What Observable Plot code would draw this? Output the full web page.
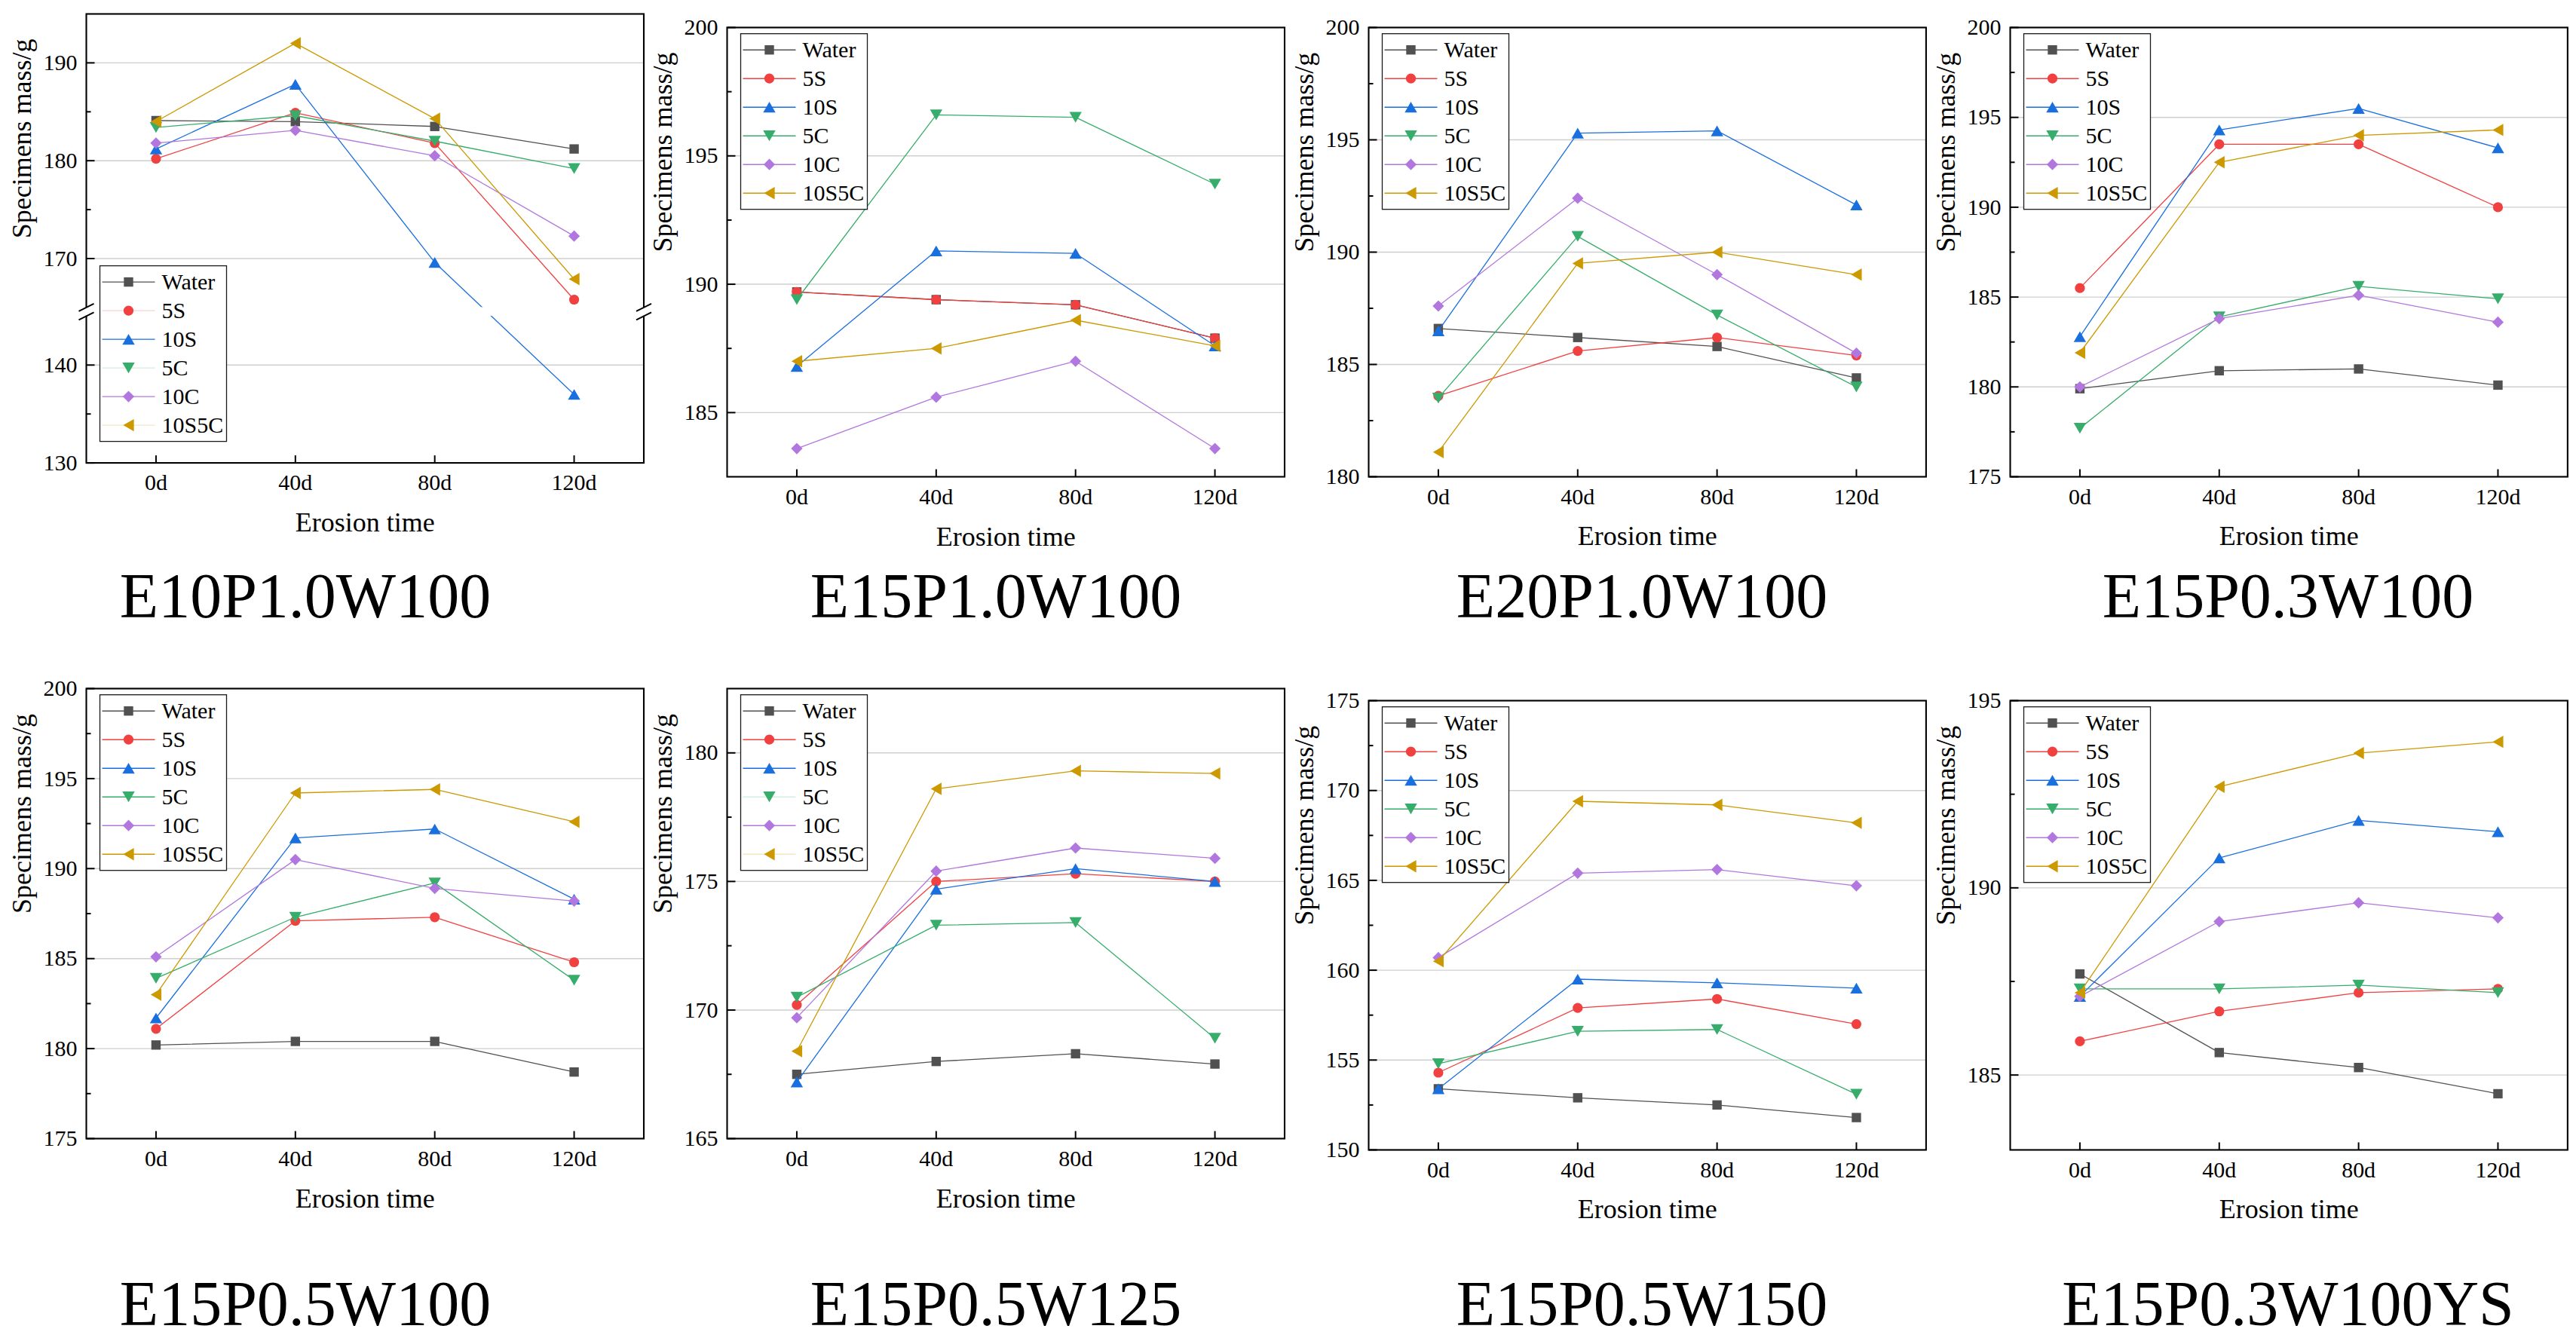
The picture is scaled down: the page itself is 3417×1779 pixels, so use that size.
<!DOCTYPE html>
<html><head><meta charset="utf-8">
<script src="https://cdn.jsdelivr.net/npm/d3@7"></script>
<script src="https://cdn.jsdelivr.net/npm/@observablehq/plot@0.6"></script>
<style>
html,body{margin:0;padding:0;background:#fff;}
#root{position:relative;width:3417px;height:1779px;overflow:hidden;background:#fff;font-family:'Liberation Serif','Times New Roman',serif;}
.panel{position:absolute;}
.title{position:absolute;width:660px;text-align:center;font-size:84px;line-height:80px;color:#000;white-space:nowrap;overflow:visible;font-family:'Liberation Serif','Times New Roman',serif;}
</style></head><body><div id="root"></div>
<script>
// ---------- data ----------
const days = [0, 40, 80, 120];
const dayLabels = ["0d", "40d", "80d", "120d"];
const seriesNames = ["Water", "5S", "10S", "5C", "10C", "10S5C"];
const panelTitles = ["E10P1.0W100", "E15P1.0W100", "E20P1.0W100", "E15P0.3W100",
                     "E15P0.5W100", "E15P0.5W125", "E15P0.5W150", "E15P0.3W100YS"];
const xLabel = "Erosion time";
const yLabel = "Specimens mass/g";

// rows: Water, 5S, 10S, 5C, 10C, 10S5C ; columns: 0d, 40d, 80d, 120d
const massE10P10W100 = [
  [184.1, 184.0, 183.5, 181.2],
  [180.2, 184.9, 181.8, 165.8],
  [181.2, 187.8, 169.6, 137.0],
  [183.4, 184.6, 182.0, 179.2],
  [181.8, 183.1, 180.5, 172.3],
  [184.0, 192.0, 184.3, 167.9]];
const massE15P10W100 = [
  [189.7, 189.4, 189.2, 187.9],
  [189.7, 189.4, 189.2, 187.9],
  [186.8, 191.3, 191.2, 187.6],
  [189.4, 196.6, 196.5, 193.9],
  [183.6, 185.6, 187.0, 183.6],
  [187.0, 187.5, 188.6, 187.6]];
const massE20P10W100 = [
  [186.6, 186.2, 185.8, 184.4],
  [183.6, 185.6, 186.2, 185.4],
  [186.5, 195.3, 195.4, 192.1],
  [183.5, 190.7, 187.2, 184.0],
  [187.6, 192.4, 189.0, 185.5],
  [181.1, 189.5, 190.0, 189.0]];
const massE15P03W100 = [
  [179.9, 180.9, 181.0, 180.1],
  [185.5, 193.5, 193.5, 190.0],
  [182.8, 194.3, 195.5, 193.3],
  [177.7, 183.9, 185.6, 184.9],
  [180.0, 183.8, 185.1, 183.6],
  [181.9, 192.5, 194.0, 194.3]];
const massE15P05W100 = [
  [180.2, 180.4, 180.4, 178.7],
  [181.1, 187.1, 187.3, 184.8],
  [181.7, 191.7, 192.2, 188.3],
  [183.9, 187.3, 189.2, 183.8],
  [185.1, 190.5, 188.9, 188.2],
  [183.0, 194.2, 194.4, 192.6]];
const massE15P05W125 = [
  [167.5, 168.0, 168.3, 167.9],
  [170.2, 175.0, 175.3, 175.0],
  [167.2, 174.7, 175.5, 175.0],
  [170.5, 173.3, 173.4, 168.9],
  [169.7, 175.4, 176.3, 175.9],
  [168.4, 178.6, 179.3, 179.2]];
const massE15P05W150 = [
  [153.4, 152.9, 152.5, 151.8],
  [154.3, 157.9, 158.4, 157.0],
  [153.4, 159.5, 159.3, 159.0],
  [154.8, 156.6, 156.7, 153.1],
  [160.7, 165.4, 165.6, 164.7],
  [160.5, 169.4, 169.2, 168.2]];
const massE15P03W100YS = [
  [187.7, 185.6, 185.2, 184.5],
  [185.9, 186.7, 187.2, 187.3],
  [187.1, 190.8, 191.8, 191.5],
  [187.3, 187.3, 187.4, 187.2],
  [187.1, 189.1, 189.6, 189.2],
  [187.2, 192.7, 193.6, 193.9]];

// y-axis domains and tick values
const yDomains = [[130, 145, 165, 195], [182.5, 200], [180, 200], [175, 200],
                  [175, 200], [165, 182.5], [150, 175], [183, 195]];
const yMajorTicks = [[130, 140, 170, 180, 190], [185, 190, 195, 200], [180, 185, 190, 195, 200],
                     [175, 180, 185, 190, 195, 200], [175, 180, 185, 190, 195, 200],
                     [165, 170, 175, 180], [150, 155, 160, 165, 170, 175], [185, 190, 195]];
const yMinorTicks = [[135, 175, 185], [187.5, 192.5, 197.5], [182.5, 187.5, 192.5, 197.5],
                     [177.5, 182.5, 187.5, 192.5, 197.5], [177.5, 182.5, 187.5, 192.5, 197.5],
                     [167.5, 172.5, 177.5], [152.5, 157.5, 162.5, 167.5, 172.5], [187.5, 192.5]];
const xDomain = [-20, 140];

// ---------- styles ----------
const seriesColors = ["#515151", "#F14040", "#1A6FDF", "#37AD6B", "#B177DE", "#CC9900"];
const fadedColors  = ["#515151", "#F9D2D2", "#1A6FDF", "#D4EEDF", "#B177DE", "#F4E6C2"];

function half(s) { return Math.sqrt(s / Math.PI); }
const symSquare  = {draw(c, s) { const h = half(s); c.moveTo(-h, -h); c.lineTo(h, -h); c.lineTo(h, h); c.lineTo(-h, h); c.closePath(); }};
const symCircle  = {draw(c, s) { const h = half(s); c.moveTo(h, 0); c.arc(0, 0, h, 0, 2 * Math.PI); c.closePath(); }};
const symUp      = {draw(c, s) { const h = half(s), k = 0.866 * h; c.moveTo(0, -k); c.lineTo(h, k); c.lineTo(-h, k); c.closePath(); }};
const symDown    = {draw(c, s) { const h = half(s), k = 0.866 * h; c.moveTo(0, k); c.lineTo(h, -k); c.lineTo(-h, -k); c.closePath(); }};
const symDiamond = {draw(c, s) { const h = half(s); c.moveTo(0, -h); c.lineTo(h, 0); c.lineTo(0, h); c.lineTo(-h, 0); c.closePath(); }};
const symLeft    = {draw(c, s) { const h = half(s), k = 0.866 * h; c.moveTo(-k, 0); c.lineTo(k, -h); c.lineTo(k, h); c.closePath(); }};
const seriesSymbols = [symSquare, symCircle, symUp, symDown, symDiamond, symLeft];
const seriesSizes = [6.2, 6.6, 8.2, 8.2, 7.6, 8.2];

const tickRight = {draw(c, s) { const L = half(s); c.moveTo(0, 0); c.lineTo(L, 0); }};
const tickUp    = {draw(c, s) { const L = half(s); c.moveTo(0, 0); c.lineTo(0, -L); }};
const slash     = {draw(c, s) { const h = half(s); c.moveTo(-h, h * 0.5); c.lineTo(h, -h * 0.5); }};

const FONT = "'Liberation Serif','Times New Roman',serif";

const panels = [
  {values: massE10P10W100, frame: [113.5, 18.4, 739.5, 595.6], legendTop: 334.6, broken: true, faded: true},
  {values: massE15P10W100, frame: [963.5, 35.8, 739.5, 596], legendTop: 8.7},
  {values: massE20P10W100, frame: [1814.6, 35.8, 739.4, 596], legendTop: 8.7},
  {values: massE15P03W100, frame: [2665.6, 35.8, 739.4, 596], legendTop: 8.7},
  {values: massE15P05W100, frame: [113.5, 913, 739.5, 597], legendTop: 8.7},
  {values: massE15P05W125, frame: [963.5, 913, 739.5, 597], legendTop: 8.7, faded6: true},
  {values: massE15P05W150, frame: [1814.6, 929, 739.4, 596], legendTop: 8.7},
  {values: massE15P03W100YS, frame: [2665.6, 929, 739.4, 596], legendTop: 8.7}
];
const titleCenters = [405, 1321, 2178, 3035, 405, 1321, 2178, 3035];
const titleBaselines = [820, 820, 820, 820, 1759, 1759, 1759, 1759];

const root = document.getElementById("root");

function legendMark(p) {
  return (index, scales, values, dims) => {
    const g = d3.create("svg:g");
    const x0 = dims.marginLeft + 18.5, y0 = dims.marginTop + p.legendTop;
    g.append("rect").attr("x", x0).attr("y", y0).attr("width", 168).attr("height", 233)
      .attr("fill", "white").attr("stroke", "#1a1a1a").attr("stroke-width", 1.3);
    seriesNames.forEach((name, i) => {
      const cy = y0 + 21.5 + i * 38;
      let lc = seriesColors[i];
      if (p.faded) lc = fadedColors[i];
      if (p.faded6 && (i === 3 || i === 5)) lc = fadedColors[i];
      g.append("line").attr("x1", x0 + 3).attr("x2", x0 + 73).attr("y1", cy).attr("y2", cy)
        .attr("stroke", lc).attr("stroke-width", 1.4);
      const path = d3.path();
      const r = seriesSizes[i];
      seriesSymbols[i].draw(path, r * r * Math.PI);
      g.append("path").attr("d", path.toString()).attr("transform", `translate(${x0 + 38},${cy})`)
        .attr("fill", seriesColors[i]);
      g.append("text").attr("x", x0 + 82).attr("y", cy).attr("dy", "0.34em")
        .attr("text-anchor", "start")
        .attr("font-size", 30).attr("font-family", FONT).attr("fill", "black").text(name);
    });
    return g.node();
  };
}

panels.forEach((p, pi) => {
  const [fl, ft, fw, fh] = p.frame;
  const mL = 120, mT = 20, mR = 14, mB = 110;
  const width = mL + fw + mR, height = mT + fh + mB;
  const yDom = yDomains[pi];
  const data = [];
  seriesNames.forEach((name, si) => days.forEach((d, di) =>
    data.push({series: name, si, day: d, mass: p.values[si][di]})));

  let yOpt = {type: "linear", domain: [yDom[0], yDom[yDom.length - 1]]};
  if (p.broken) {
    const gap = 11.5;
    const units = (yDom[1] - yDom[0]) + (yDom[3] - yDom[2]);
    const ppu = (fh - gap) / units;
    const b = mT + fh;
    const r1 = b - (yDom[1] - yDom[0]) * ppu;
    yOpt = {type: "linear", domain: yDom, range: [b, r1, r1 - gap, mT]};
  }
  const yMin = yDom[0];

  const marks = [];
  marks.push(Plot.gridY({ticks: yMajorTicks[pi], stroke: "#cfcfcf", strokeOpacity: 1, strokeWidth: 1.4}));
  seriesNames.forEach((name, si) => {
    const sd = data.filter(d => d.si === si);
    marks.push(Plot.line(sd, {x: "day", y: "mass", stroke: seriesColors[si], strokeWidth: 1.3}));
    marks.push(Plot.dot(sd, {x: "day", y: "mass", symbol: seriesSymbols[si], r: seriesSizes[si],
      fill: seriesColors[si], stroke: "none"}));
  });
  marks.push(Plot.frame({stroke: "black", strokeWidth: 2.1}));
  if (p.broken) {
    marks.push(Plot.rect([{lo: yDom[1], hi: yDom[2]}], {
      x1: () => xDomain[0] - 2.5, x2: () => xDomain[1] + 2.5, y1: "lo", y2: "hi", fill: "white"}));
    const br = [];
    [xDomain[0], xDomain[1]].forEach(x => [yDom[1], yDom[2]].forEach(y => br.push({x, y})));
    marks.push(Plot.dot(br, {x: "x", y: "y", symbol: slash, r: 10, stroke: "black", strokeWidth: 2, fill: "none"}));
  }
  // inward ticks
  marks.push(Plot.dot(yMajorTicks[pi].map(v => ({x: xDomain[0], y: v})),
    {x: "x", y: "y", symbol: tickRight, r: 11, stroke: "black", strokeWidth: 2, fill: "none"}));
  marks.push(Plot.dot(yMinorTicks[pi].map(v => ({x: xDomain[0], y: v})),
    {x: "x", y: "y", symbol: tickRight, r: 6, stroke: "black", strokeWidth: 2, fill: "none"}));
  marks.push(Plot.dot(days.map(v => ({x: v, y: yMin})),
    {x: "x", y: "y", symbol: tickUp, r: 10, stroke: "black", strokeWidth: 2, fill: "none"}));
  // axes
  marks.push(Plot.axisY({ticks: yMajorTicks[pi], tickSize: 0, tickPadding: 12, fontSize: 30,
    label: null, tickFormat: d => String(d)}));
  marks.push(Plot.axisX({ticks: days, tickSize: 0, tickPadding: 15, fontSize: 30,
    label: null, tickFormat: d => dayLabels[days.indexOf(d)]}));
  marks.push(Plot.text([xLabel], {text: d => d, frameAnchor: "bottom", dy: 91, lineAnchor: "bottom", fontSize: 36}));
  marks.push(Plot.text([yLabel], {text: d => d, frameAnchor: "left", dx: -73.5, rotate: -90, lineAnchor: "bottom", fontSize: 36}));
  marks.push(legendMark(p));

  const svg = Plot.plot({
    width, height,
    marginLeft: mL, marginTop: mT, marginRight: mR, marginBottom: mB,
    x: {type: "linear", domain: xDomain},
    y: yOpt,
    style: {fontFamily: FONT, fontSize: "30px", color: "black", background: "transparent", maxWidth: "none", overflow: "visible"},
    marks
  });
  const div = document.createElement("div");
  div.className = "panel";
  div.style.left = (fl - mL) + "px";
  div.style.top = (ft - mT) + "px";
  div.style.width = width + "px";
  div.style.height = height + "px";
  div.appendChild(svg);
  root.appendChild(div);

  // title: font 84px, line-height 80px → baseline ≈ top + 69
  const t = document.createElement("div");
  t.className = "title";
  t.textContent = panelTitles[pi];
  t.style.left = (titleCenters[pi] - 330) + "px";
  t.style.top = (titleBaselines[pi] - 69) + "px";
  root.appendChild(t);
});
</script></body></html>
